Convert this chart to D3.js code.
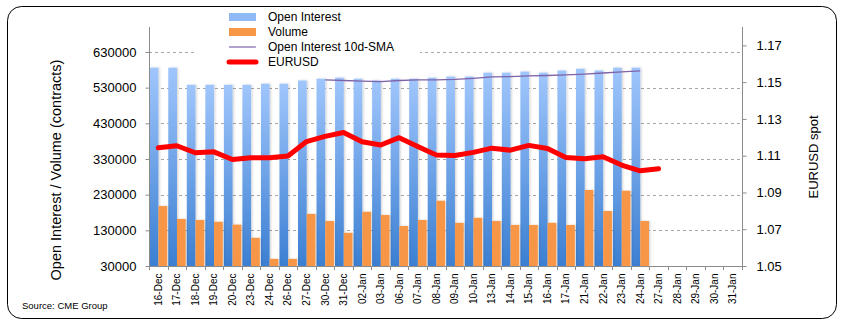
<!DOCTYPE html>
<html><head><meta charset="utf-8">
<script src="https://cdn.jsdelivr.net/npm/d3@7"></script>
<style>body{margin:0;background:#fff;} svg{display:block;font-family:"Liberation Sans",Arial,sans-serif;}</style>
</head><body><svg id="c" width="846" height="327"></svg>
<script>
const categories = ["16-Dec","17-Dec","18-Dec","19-Dec","20-Dec","23-Dec","24-Dec","26-Dec","27-Dec","30-Dec","31-Dec",
 "02-Jan","03-Jan","06-Jan","07-Jan","08-Jan","09-Jan","10-Jan","13-Jan","14-Jan","15-Jan","16-Jan","17-Jan","21-Jan","22-Jan","23-Jan","24-Jan",
 "27-Jan","28-Jan","29-Jan","30-Jan","31-Jan"];
const openInterest = [586000,586000,538000,538000,538000,538000,541000,541000,550000,555000,558000,
 555000,550000,555000,555000,558000,561000,561000,572000,572000,575000,572000,578000,583000,578000,586000,586000];
const volume = [198000,162000,159000,154000,146000,109000,50000,50000,176000,156000,123000,
 182000,173000,142000,159000,213000,151000,165000,156000,145000,145000,151000,145000,243000,184000,241000,156000];
const smaStart = 9; // 30-Dec
const sma = [552000,550000,548000,547000,550000,552000,552000,553000,556000,560000,561000,563000,564000,566000,568000,571000,574000,577000];
const eurusd = [1.1143,1.1154,1.1116,1.1121,1.1079,1.1089,1.1089,1.1098,1.1177,1.1205,1.1226,
 1.1176,1.1158,1.1198,1.1150,1.1104,1.1101,1.1118,1.1141,1.1130,1.1156,1.1139,1.1090,1.1083,1.1094,1.1049,1.1018,1.1029];
const leftTicks = [30000,130000,230000,330000,430000,530000,630000];
const rightTicks = [1.05,1.07,1.09,1.11,1.13,1.15,1.17];

const svg = d3.select("#c");
const L = 149, R = 742, T = 27, B = 266;
const x = d3.scaleBand().domain(categories).range([L, R]);
const yL = d3.scaleLinear().domain([30000, 700000]).range([B, T]);
const yR = d3.scaleLinear().domain([1.05, 1.18]).range([B, T]);

const defs = svg.append("defs");
const g1 = defs.append("linearGradient").attr("id","blueGrad").attr("x1",0).attr("y1",0).attr("x2",0).attr("y2",1);
g1.append("stop").attr("offset","0%").attr("stop-color","#a0c6fc");
g1.append("stop").attr("offset","100%").attr("stop-color","#3b7fd2");
const f = defs.append("filter").attr("id","sh").attr("x","-20%").attr("y","-5%").attr("width","160%").attr("height","110%");
f.append("feDropShadow").attr("dx",1.2).attr("dy",0).attr("stdDeviation",0.8).attr("flood-color","#000").attr("flood-opacity",0.18);

// frame
svg.append("rect").attr("x",7.5).attr("y",6.5).attr("width",829).attr("height",312).attr("rx",14).attr("fill","#fff").attr("stroke","#000").attr("stroke-width",1);

// gridlines
svg.append("g").selectAll("line").data(leftTicks.slice(1)).join("line")
  .attr("x1",L).attr("x2",R).attr("y1",d=>Math.round(yL(d))+0.5).attr("y2",d=>Math.round(yL(d))+0.5)
  .attr("stroke","#a6a6a6").attr("stroke-dasharray","3,3");

const bw = x.bandwidth();
const barW = bw*0.47;
// OI bars
svg.append("g").selectAll("rect").data(openInterest).join("rect")
  .attr("x",(d,i)=>x(categories[i])+bw*0.04).attr("width",barW)
  .attr("y",d=>yL(d)).attr("height",d=>B-yL(d)).attr("fill","url(#blueGrad)").attr("filter","url(#sh)");
// volume bars
svg.append("g").selectAll("rect").data(volume).join("rect")
  .attr("x",(d,i)=>x(categories[i])+bw*0.04+barW).attr("width",barW)
  .attr("y",d=>yL(d)).attr("height",d=>B-yL(d)).attr("fill","#f79646").attr("filter","url(#sh)");

// SMA line
const cx = i => x(categories[i]) + bw/2;
svg.append("path").datum(sma).attr("fill","none").attr("stroke","#7f63a8").attr("stroke-width",1.3)
  .attr("d", d3.line().x((d,i)=>cx(i+smaStart)).y(d=>yL(d)));
// EURUSD line
svg.append("path").datum(eurusd).attr("fill","none").attr("stroke","#ff0000").attr("stroke-width",5)
  .attr("stroke-linejoin","round").attr("stroke-linecap","round")
  .attr("d", d3.line().x((d,i)=>cx(i)).y(d=>yR(d)));

// axes
const axCol = "#8c8c8c";
const gl = svg.append("g").attr("transform",`translate(${L+0.5},0)`)
  .call(d3.axisLeft(yL).tickValues(leftTicks).tickSize(4).tickPadding(9).tickFormat(d3.format("d")));
const gr = svg.append("g").attr("transform",`translate(${R+0.5},0)`)
  .call(d3.axisRight(yR).tickValues(rightTicks).tickSize(4).tickPadding(10).tickFormat(d3.format(".2f")));
const gx = svg.append("g").attr("transform",`translate(0,${B+0.5})`)
  .call(d3.axisBottom(x).tickSize(0).tickPadding(6));
[gl,gr,gx].forEach(g=>{ g.select(".domain").attr("stroke",axCol); g.selectAll(".tick line").attr("stroke",axCol); });
gl.select(".domain").attr("d",`M-0,${T}V${B}`);
gr.select(".domain").attr("d",`M0,${T}V${B}`);
gx.select(".domain").attr("d",`M${L},0H${R}`);
gl.selectAll("text").attr("font-size",13).attr("fill","#000").attr("font-family","Liberation Sans, Arial");
gr.selectAll("text").attr("font-size",13).attr("fill","#000").attr("font-family","Liberation Sans, Arial");
gx.selectAll(".tick text").attr("font-size",10).attr("fill","#000")
  .attr("transform","rotate(-90)").attr("text-anchor","end").attr("dy","0.35em").attr("x",-7).attr("y",0);
// x tick marks at band boundaries
svg.append("g").selectAll("line").data(d3.range(categories.length+1)).join("line")
  .attr("x1",i=>Math.round(L+i*bw)+0.5).attr("x2",i=>Math.round(L+i*bw)+0.5)
  .attr("y1",B).attr("y2",B+4).attr("stroke",axCol);

// axis titles
svg.append("text").attr("transform",`translate(61,170) rotate(-90)`).attr("text-anchor","middle")
  .attr("font-size",14.5).text("Open Interest / Volume (contracts)");
svg.append("text").attr("transform",`translate(818,157) rotate(-90)`).attr("text-anchor","middle")
  .attr("font-size",13).text("EURUSD spot");
svg.append("text").attr("x",22).attr("y",309).attr("font-size",9.5).text("Source: CME Group");

// legend
const lg = svg.append("g");
lg.append("rect").attr("x",196).attr("y",8).attr("width",224).attr("height",62).attr("fill","#fff");
const items = [
  {name:"Open Interest", type:"rect", color:"#8fbaf5"},
  {name:"Volume", type:"rect", color:"#f79646"},
  {name:"Open Interest 10d-SMA", type:"thin", color:"#7f63a8"},
  {name:"EURUSD", type:"thick", color:"#ff0000"}
];
const rowsY = [17,32,47,62];
items.forEach((it,i)=>{
  const yy = rowsY[i];
  if(it.type==="rect") lg.append("rect").attr("x",229).attr("y",yy-4).attr("width",27).attr("height",8).attr("fill",it.color);
  else if(it.type==="thin") lg.append("line").attr("x1",229).attr("x2",256).attr("y1",yy).attr("y2",yy).attr("stroke",it.color).attr("stroke-width",1.2);
  else lg.append("line").attr("x1",229).attr("x2",256).attr("y1",yy).attr("y2",yy).attr("stroke",it.color).attr("stroke-width",5).attr("stroke-linecap","round");
  lg.append("text").attr("x",268).attr("y",yy).attr("dy","0.35em").attr("font-size",12).text(it.name);
});
</script></body></html>
